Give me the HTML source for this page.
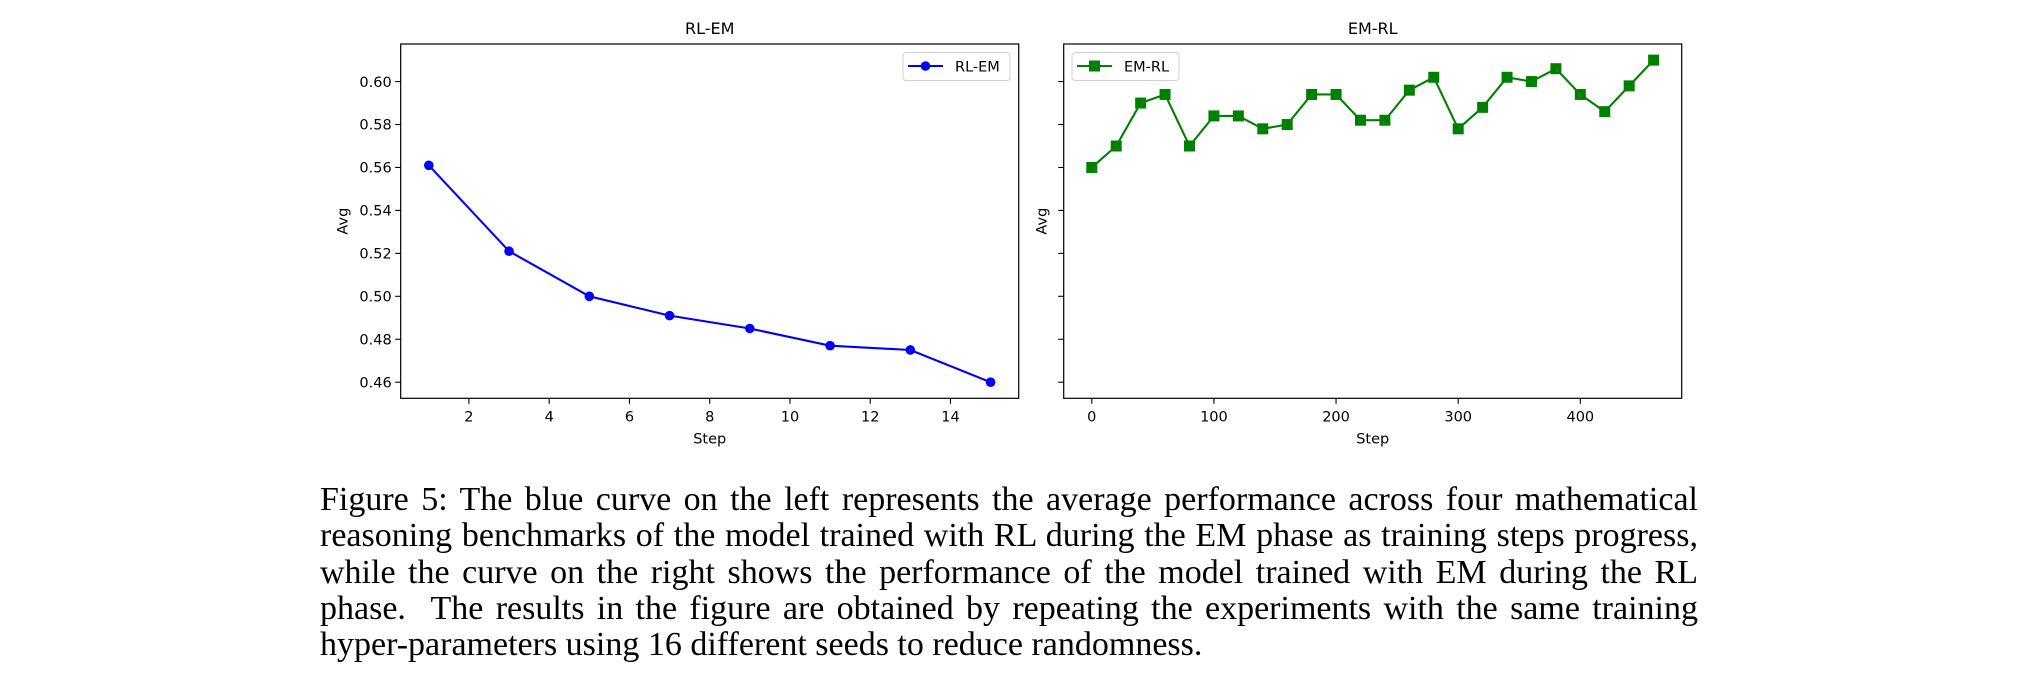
<!DOCTYPE html>
<html><head><meta charset="utf-8">
<style>
html,body{margin:0;padding:0;background:#fff;}
body{width:2030px;height:682px;position:relative;overflow:hidden;}
svg{position:absolute;left:0;top:0;}
svg text{font-family:"DejaVu Sans","Liberation Sans",sans-serif;fill:#000;}
#caption{position:absolute;left:320px;top:482px;width:1378px;font-family:"Liberation Serif",serif;font-size:34px;line-height:36.3px;color:#000;}
#caption .ln{display:block;text-align:justify;text-align-last:justify;white-space:nowrap;}
#caption .ln.last{text-align-last:left;}
</style></head>
<body>
<svg id="chart" width="2030" height="470"></svg>
<div id="caption">
<span class="ln">Figure 5: The blue curve on the left represents the average performance across four mathematical</span>
<span class="ln">reasoning benchmarks of the model trained with RL during the EM phase as training steps progress,</span>
<span class="ln">while the curve on the right shows the performance of the model trained with EM during the RL</span>
<span class="ln">phase. &nbsp;The results in the figure are obtained by repeating the experiments with the same training</span>
<span class="ln last">hyper-parameters using 16 different seeds to reduce randomness.</span>
</div>
<script>
const leftSteps = [1,3,5,7,9,11,13,15];
const leftAvg = [0.561,0.521,0.500,0.491,0.485,0.477,0.475,0.460];
const rightSteps = [0,20,40,60,80,100,120,140,160,180,200,220,240,260,280,300,320,340,360,380,400,420,440,460];
const rightAvg = [0.560,0.570,0.590,0.594,0.570,0.584,0.584,0.578,0.580,0.594,0.594,0.582,0.582,0.596,0.602,0.578,0.588,0.602,0.600,0.606,0.594,0.586,0.598,0.610];
const yTicks = [0.46,0.48,0.50,0.52,0.54,0.56,0.58,0.60];
const leftXTicks = [2,4,6,8,10,12,14];
const rightXTicks = [0,100,200,300,400];

(function(){
const NS="http://www.w3.org/2000/svg";
const svg=document.getElementById('chart');
function mk(tag,attrs,parent){const e=document.createElementNS(NS,tag);for(const k in attrs)e.setAttribute(k,attrs[k]);(parent||svg).appendChild(e);return e;}

const axTop=44, axBot=398.3;
const allY=leftAvg.concat(rightAvg);
const yMin=Math.min(...allY), yMax=Math.max(...allY), yPad=(yMax-yMin)*0.05;
const y0=yMin-yPad, y1=yMax+yPad;
function yS(v){return axBot-(v-y0)/(y1-y0)*(axBot-axTop);}

function panel(cfg){
  const {x0,x1,xs,ys,xticks,title,color,marker,name,showYLabels,legendX}=cfg;
  const g=mk('g',{});
  
  
  const dMin=Math.min(...xs), dMax=Math.max(...xs), pad=(dMax-dMin)*0.05;
  const a=dMin-pad, b=dMax+pad;
  const xS=v=>x0+(v-a)/(b-a)*(x1-x0);
  const t=mk('text',{x:(x0+x1)/2,y:34,'text-anchor':'middle','font-size':'16'},g);
  t.textContent=title;
  
  
  yTicks.forEach(v=>{
    const y=yS(v);
    const tk=mk('line',{x1:x0-5.5,x2:x0,y1:y,y2:y,stroke:'#000','stroke-width':1.1},g);
    
    
    if(showYLabels){
      const l=mk('text',{x:x0-9,y:y+5.2,'text-anchor':'end','font-size':'14.5'},g);
      l.textContent=v.toFixed(2);
      
      
    }
  });
  xticks.forEach(v=>{
    const x=xS(v);
    const tk=mk('line',{x1:x,x2:x,y1:axBot,y2:axBot+5.5,stroke:'#000','stroke-width':1.1},g);
    
    
    const l=mk('text',{x:x,y:axBot+23,'text-anchor':'middle','font-size':'14.5'},g);
    l.textContent=String(v);
    
    
  });
  const xl=mk('text',{x:(x0+x1)/2,y:axBot+45,'text-anchor':'middle','font-size':'14.5'},g);
  xl.textContent='Step';
  
  
  const yx = showYLabels ? x0-53 : x0-17;
  const yc=(axTop+axBot)/2;
  const yl=mk('text',{x:yx,y:yc,'text-anchor':'middle','font-size':'14.5',transform:'rotate(-90 '+yx+' '+yc+')'},g);
  yl.textContent='Avg';
  
  
  const pts=xs.map((v,i)=>xS(v).toFixed(2)+','+yS(ys[i]).toFixed(2)).join(' ');
  const pl=mk('polyline',{points:pts,fill:'none',stroke:color,'stroke-width':2.1,'stroke-linejoin':'round'},g);
  
  
  xs.forEach((v,i)=>{
    let m;
    if(marker==='circle') m=mk('circle',{cx:xS(v),cy:yS(ys[i]),r:4.8,fill:color},g);
    else m=mk('rect',{x:xS(v)-5.5,y:yS(ys[i])-5.5,width:11,height:11,fill:color},g);
    
    
  });
  const fr=mk('rect',{x:x0,y:axTop,width:x1-x0,height:axBot-axTop,fill:'none',stroke:'#000','stroke-width':1.2},g);
  
  
  const lg=mk('g',{},g);
  
  
  mk('rect',{x:legendX,y:52.5,width:107,height:28,rx:3,fill:'#fff',stroke:'#d0d0d0','stroke-width':1},lg);
  mk('line',{x1:legendX+5,x2:legendX+40,y1:66,y2:66,stroke:color,'stroke-width':2.1},lg);
  if(marker==='circle') mk('circle',{cx:legendX+22.5,cy:66,r:4.8,fill:color},lg);
  else mk('rect',{x:legendX+17,y:60.5,width:11,height:11,fill:color},lg);
  const lt=mk('text',{x:legendX+52,y:71.5,'font-size':'14.5'},lg);
  lt.textContent=title;
  
  
}
panel({x0:400.7,x1:1018.7,xs:leftSteps,ys:leftAvg,xticks:leftXTicks,title:'RL-EM',color:'#0000ff',marker:'circle',name:'rl-em',showYLabels:true,legendX:903});
panel({x0:1063.7,x1:1681.7,xs:rightSteps,ys:rightAvg,xticks:rightXTicks,title:'EM-RL',color:'#008000',marker:'square',name:'em-rl',showYLabels:false,legendX:1072});
})();
</script>
</body></html>
